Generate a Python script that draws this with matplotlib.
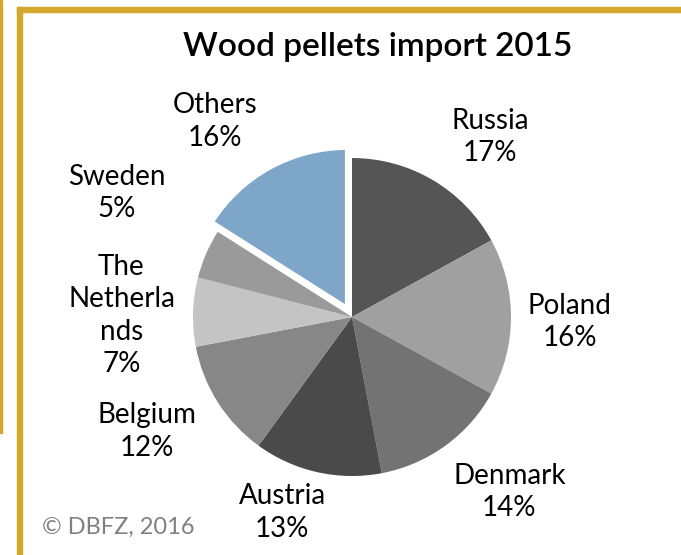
import matplotlib.pyplot as plt
from matplotlib.patches import Rectangle

countries = ['Russia', 'Poland', 'Denmark', 'Austria', 'Belgium',
             'The\nNetherla\nnds', 'Sweden', 'Others']
shares = [17, 16, 14, 13, 12, 7, 5, 16]
colors = ['#555555', '#a0a0a0', '#737373', '#4a4a4a', '#878787',
          '#c4c4c4', '#9a9a9a', '#7ea6c9']
explode = [0, 0, 0, 0, 0, 0, 0, 0.07]

# label spots in pie units (radius = 1)
label_xy = [(0.87, 1.13), (1.37, -0.03), (0.99, -1.10), (-0.44, -1.23),
            (-1.29, -0.72), (-1.45, 0.01), (-1.48, 0.78), (-0.86, 1.23)]

W, H = 681, 555
fig = plt.figure(figsize=(W / 100, H / 100), dpi=100)

# pie centre (352, 317) px from top-left, radius 159 px
cx, cy, R = 352, 317, 159
half = 1.2
ax = fig.add_axes([(cx - half * R) / W, (H - cy - half * R) / H,
                   2 * half * R / W, 2 * half * R / H])
wedges, _ = ax.pie(shares, colors=colors, startangle=90, counterclock=False,
                   explode=explode, radius=1)
wedges[-1].set_edgecolor('white')
wedges[-1].set_linewidth(2.5)
ax.set_xlim(-half, half)
ax.set_ylim(-half, half)
ax.axis('off')

for name, val, (x, y) in zip(countries, shares, label_xy):
    ax.text(x, y, f'{name}\n{val}%', ha='center', va='center',
            fontsize=20, family='Lato', linespacing=1.3, clip_on=False)

fig.text(378 / W, 1 - 47 / H, 'Wood pellets import 2015', ha='center',
         va='center', fontsize=24, family='Lato', fontweight='semibold')
fig.text(42 / W, 1 - 527 / H, '\u00a9 DBFZ, 2016', ha='left', va='center',
         fontsize=17, family='Lato', color='#808080')

# gold frame
gold = '#d4a82a'
fig.add_artist(Rectangle((17 / W, 0), 5 / W, (H - 7) / H, color=gold,
                         transform=fig.transFigure))
fig.add_artist(Rectangle((17 / W, (H - 12) / H), (W - 17) / W, 5 / H,
                         color=gold, transform=fig.transFigure))
fig.add_artist(Rectangle((0, (H - 433) / H), 1.5 / W, 433 / H, color=gold,
                         transform=fig.transFigure))

fig.savefig('out.png', dpi=100)
